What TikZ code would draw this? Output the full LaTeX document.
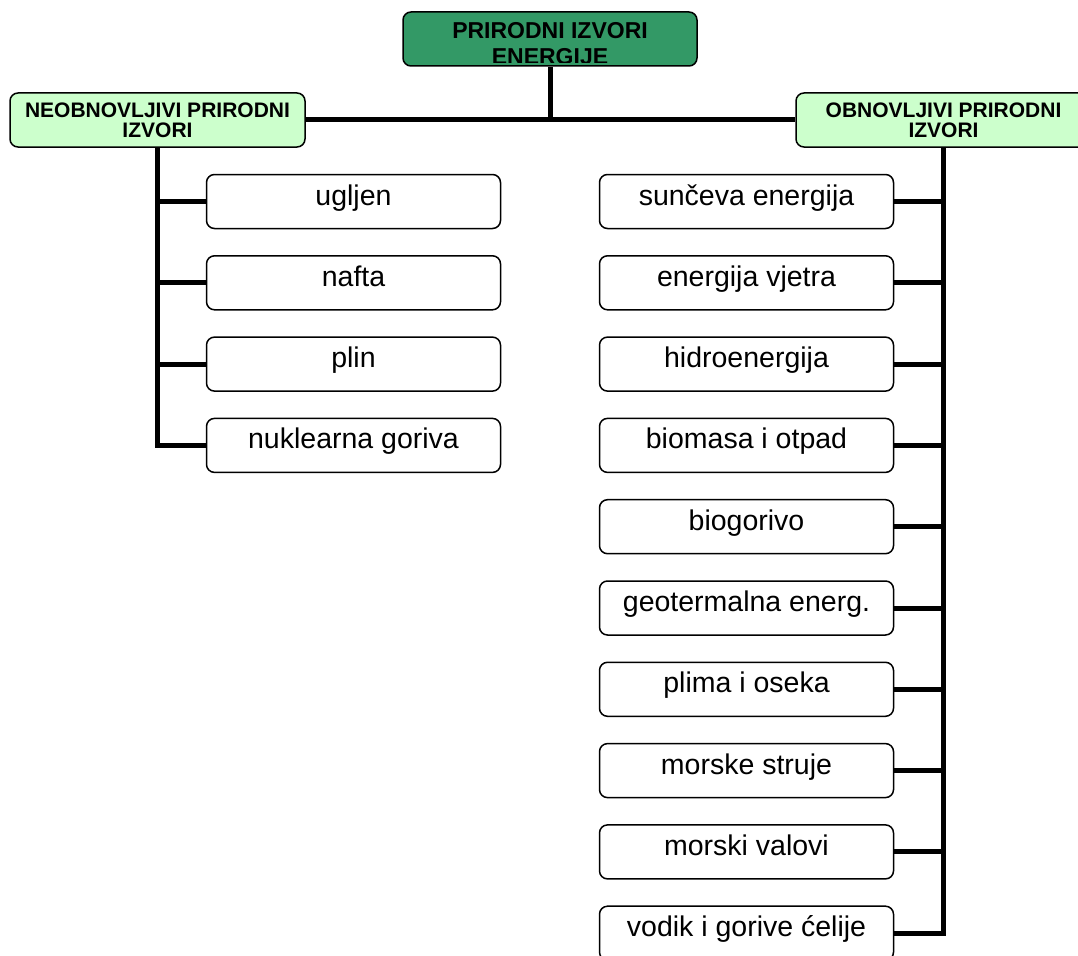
\documentclass[tikz,border=0pt]{standalone}
\usepackage{fontspec}
\setmainfont{Liberation Sans}
\usepackage{xcolor}
\definecolor{rootgreen}{RGB}{51,153,102}
\definecolor{mintgreen}{RGB}{204,255,204}
\tikzset{
    root-box/.style = {draw=black, fill=rootgreen, line width=1.5pt, rectangle, rounded corners=8pt, minimum width=294pt, minimum height=54pt, inner sep=0pt},
    root-text/.style = {font=\fontsize{23}{26}\selectfont\bfseries, align=center, inner sep=0pt},
    group-box/.style = {draw=black, fill=mintgreen, line width=1.5pt, rectangle, rounded corners=8pt, minimum width=295pt, minimum height=54pt, inner sep=0pt, align=center, font=\fontsize{21}{20}\selectfont\bfseries},
    item-box/.style = {draw=black, fill=white, line width=1.5pt, rectangle, rounded corners=8pt, minimum width=294pt, minimum height=54pt, inner sep=0pt, text height=20pt, text depth=13pt, font=\fontsize{28.5}{34}\selectfont},
    branch/.style = {draw=black, line width=5pt},
}

\begin{document}
\begin{tikzpicture}[x=1pt, y=-1pt]
\useasboundingbox (0,0) rectangle (1078,955);

% top of the tree
\node [root-box] (root) at (550,39) {};
\begin{scope}
    \clip ([shift={(2,2)}]root.north west) rectangle ([shift={(-2,-4)}]root.south east);
    \node [root-text, anchor=north] (roottext) at (550,22) {PRIRODNI IZVORI\\ENERGIJE};
\end{scope}

\node [group-box] (neobn) at (157.5,120) {NEOBNOVLJIVI PRIRODNI\\IZVORI};
\node [group-box] (obn) at (943.5,120) {OBNOVLJIVI PRIRODNI\\IZVORI};

% neobnovljivi
\node [item-box] (ugljen) at (353.5,201.5) {ugljen};
\node [item-box] (nafta) at (353.5,282.8) {nafta};
\node [item-box] (plin) at (353.5,364.1) {plin};
\node [item-box] (nuklearna) at (353.5,445.4) {nuklearna goriva};

% obnovljivi
\node [item-box] (sunce) at (746.5,201.5) {sunčeva energija};
\node [item-box] (vjetar) at (746.5,282.8) {energija vjetra};
\node [item-box] (hidro) at (746.5,364.1) {hidroenergija};
\node [item-box] (biomasa) at (746.5,445.4) {biomasa i otpad};
\node [item-box] (biogorivo) at (746.5,526.7) {biogorivo};
\node [item-box] (geoterm) at (746.5,608.0) {geotermalna energ.};
\node [item-box] (plima) at (746.5,689.3) {plima i oseka};
\node [item-box] (struje) at (746.5,770.6) {morske struje};
\node [item-box] (valovi) at (746.5,851.9) {morski valovi};
\node [item-box] (vodik) at (746.5,933.2) {vodik i gorive ćelije};

% connectors
\draw [branch] (neobn.east) -- (obn.west);
\draw [branch] (root.south) -- (root.south |- neobn.east);
\draw [branch] (neobn.south) |- (ugljen.west);
\draw [branch] (neobn.south) |- (nafta.west);
\draw [branch] (neobn.south) |- (plin.west);
\draw [branch] (neobn.south) |- (nuklearna.west);
\draw [branch] (obn.south) |- (sunce.east);
\draw [branch] (obn.south) |- (vjetar.east);
\draw [branch] (obn.south) |- (hidro.east);
\draw [branch] (obn.south) |- (biomasa.east);
\draw [branch] (obn.south) |- (biogorivo.east);
\draw [branch] (obn.south) |- (geoterm.east);
\draw [branch] (obn.south) |- (plima.east);
\draw [branch] (obn.south) |- (struje.east);
\draw [branch] (obn.south) |- (valovi.east);
\draw [branch] (obn.south) |- (vodik.east);
\end{tikzpicture}
\end{document}
